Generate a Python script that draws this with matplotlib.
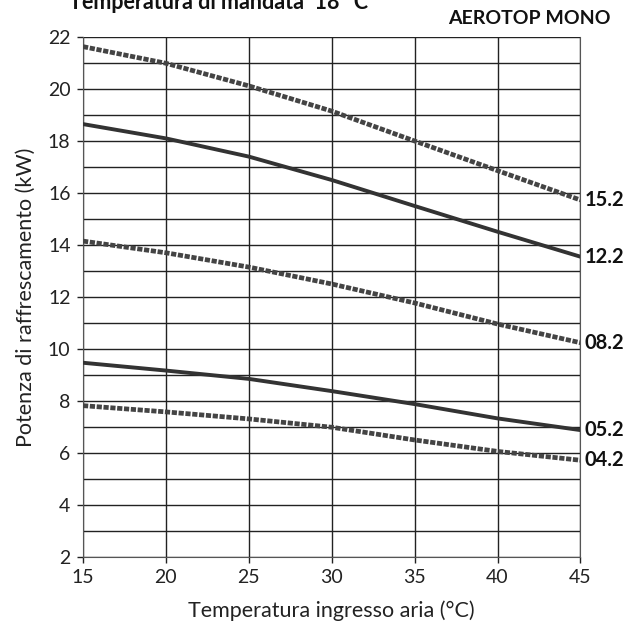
import matplotlib
matplotlib.use("Agg")
import matplotlib.pyplot as plt

plt.rcParams['font.family'] = ['Lato', 'DejaVu Sans']

temp = [15, 20, 25, 30, 35, 40, 45]
m152 = [21.63, 20.99, 20.12, 19.15, 18.0, 16.86, 15.73]
m122 = [18.65, 18.1, 17.4, 16.5, 15.5, 14.51, 13.55]
m082 = [14.15, 13.7, 13.15, 12.5, 11.77, 10.96, 10.24]
m052 = [9.47, 9.17, 8.85, 8.38, 7.88, 7.33, 6.88]
m042 = [7.82, 7.58, 7.31, 6.99, 6.5, 6.06, 5.72]
models = ["15.2", "12.2", "08.2", "05.2", "04.2"]
series = [m152, m122, m082, m052, m042]
dashed = [True, False, True, False, True]

fig = plt.figure(figsize=(6.41, 6.23), dpi=100)
ax = fig.add_axes([0.1295, 0.106, 0.776, 0.8346])

col = "#333333"
for name, vals, d in zip(models, series, dashed):
    if d:
        ax.plot(temp, vals, color="#444444", lw=3.4, ls=(0, (1.1, 0.35)), solid_capstyle="butt", zorder=3)
    else:
        ax.plot(temp, vals, color=col, lw=2.8, zorder=3)
    ax.text(45.25, vals[-1], name, fontsize=14.5, fontweight="bold", va="center", ha="left", color="#111111")

ax.set_xlim(15, 45)
ax.set_ylim(2, 22)
ax.set_xticks(range(15, 46, 5))
ax.set_yticks(range(2, 23, 2))
ax.set_yticks(range(3, 22, 2), minor=True)
ax.grid(True, which="both", axis="y", color="#222222", lw=1.0)
ax.grid(True, which="major", axis="x", color="#222222", lw=1.0)
ax.tick_params(which="minor", length=0)
ax.tick_params(which="major", length=4, width=1, labelsize=14, colors="#222222", pad=5)
for s in ax.spines.values():
    s.set_color("#555555")
ax.spines["top"].set_visible(False)

ax.set_xlabel("Temperatura ingresso aria (°C)", fontsize=15.5, labelpad=10, color="#222222")
ax.set_ylabel("Potenza di raffrescamento (kW)", fontsize=15.5, labelpad=9, color="#222222")

fig.text(0.108, 0.986, "Temperatura di mandata  18 °C", fontsize=15.5, fontweight="bold", va="baseline", ha="left", color="#111111")
fig.text(0.952, 0.971, "AEROTOP MONO", fontsize=14, fontweight="bold", va="center", ha="right", color="#111111")

fig.savefig("out.png", dpi=100)
